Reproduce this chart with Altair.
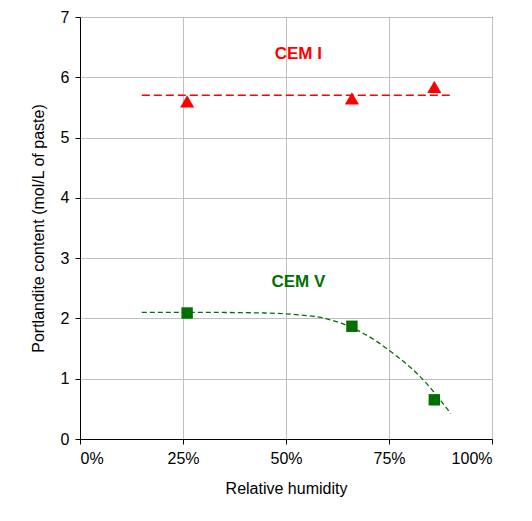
import altair as alt
import pandas as pd

# measured points
rh = [0.26, 0.66, 0.86]
cem1 = [5.6, 5.65, 5.84]
cem5 = [2.09, 1.87, 0.65]

# trend lines
fit1_x = [0.15, 0.90]
fit1_y = [5.7, 5.7]
fit5_x = [0.15, 0.30, 0.45, 0.53, 0.58, 0.63, 0.68, 0.72, 0.76, 0.80, 0.84, 0.88, 0.90]
fit5_y = [2.1, 2.1, 2.09, 2.06, 2.02, 1.93, 1.78, 1.62, 1.42, 1.2, 0.93, 0.6, 0.42]

pts = pd.DataFrame({"rh": rh * 2, "v": cem1 + cem5, "s": ["CEM I"] * 3 + ["CEM V"] * 3})
f1 = pd.DataFrame({"rh": fit1_x, "v": fit1_y})
f5 = pd.DataFrame({"rh": fit5_x, "v": fit5_y})
labels = pd.DataFrame({"rh": [0.53, 0.53], "v": [6.38, 2.6], "t": ["CEM I", "CEM V"],
                       "s": ["CEM I", "CEM V"]})

red, green = "#ff0000", "#007000"
xs = alt.X("rh:Q", scale=alt.Scale(domain=[0, 1]),
           axis=alt.Axis(format="%", values=[0, 0.25, 0.5, 0.75, 1], title="Relative humidity"))
ys = alt.Y("v:Q", scale=alt.Scale(domain=[0, 7]),
           axis=alt.Axis(values=list(range(8)), title="Portlandite content (mol/L of paste)"))
col = alt.Color("s:N", scale=alt.Scale(domain=["CEM I", "CEM V"], range=[red, green]), legend=None)
shp = alt.Shape("s:N", scale=alt.Scale(domain=["CEM I", "CEM V"], range=["triangle-up", "square"]), legend=None)
sz = alt.Size("s:N", scale=alt.Scale(domain=["CEM I", "CEM V"], range=[200, 130]), legend=None)

l1 = alt.Chart(f1).mark_line(color=red, strokeDash=[8, 4], strokeWidth=1.5).encode(x=xs, y=ys)
l5 = alt.Chart(f5).mark_line(color=green, strokeDash=[5, 3], strokeWidth=1.3, interpolate="monotone").encode(x=xs, y=ys)
p = alt.Chart(pts).mark_point(filled=True, opacity=1).encode(x=xs, y=ys, color=col, shape=shp, size=sz)
t = alt.Chart(labels).mark_text(fontWeight="bold", fontSize=17, font="Liberation Sans").encode(
    x=xs, y=ys, text="t:N", color=col)

chart = (l1 + l5 + p + t).properties(
    width=412, height=422, padding={"left": 22, "top": 1, "right": 5, "bottom": 5}
).configure_axis(
    grid=True, gridColor="#c0c0c0", domainColor="black", tickColor="black",
    labelColor="black", titleColor="black", labelFontSize=16, titleFontSize=16,
    labelFont="Liberation Sans", titleFont="Liberation Sans", titleFontWeight="normal",
    labelPadding=6, titlePadding=14
).configure_view(stroke="black")

chart.save("out.html", embed_options={"renderer": "svg", "actions": False})
